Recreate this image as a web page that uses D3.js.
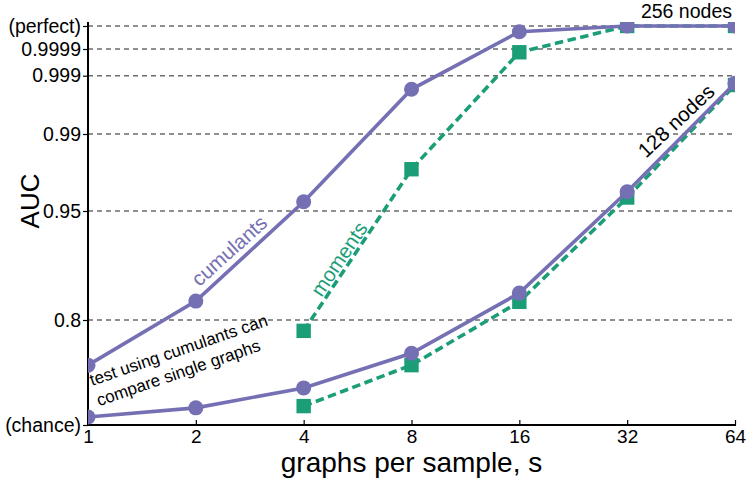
<!DOCTYPE html>
<html>
<head>
<meta charset="utf-8">
<script src="https://cdn.jsdelivr.net/npm/d3@7"></script>
<style>
  html, body { margin: 0; padding: 0; background: #fff; }
  svg text { font-family: "Liberation Sans", Arial, Helvetica, sans-serif; }
</style>
</head>
<body>
<svg id="chart" width="747" height="481"></svg>
<script>
// ---------------- data ----------------
const xTicks = [1, 2, 4, 8, 16, 32, 64];
const yTickValues = [0.5, 0.8, 0.95, 0.99, 0.999, 0.9999, 1];
const yTickLabels = ["(chance)", "0.8", "0.95", "0.99", "0.999", "0.9999", "(perfect)"];

// 256 nodes
const s256 = [1, 2, 4, 8, 16, 32, 64];
const cumulants256 = [0.671, 0.826, 0.9548, 0.9969, 0.999975, 1, 1];
const m256 = [4, 8, 16, 32, 64];
const moments256 = [0.769, 0.9717, 0.99979, 1, 1];

// 128 nodes
const s128 = [1, 2, 4, 8, 16, 32, 64];
const cumulants128 = [0.523, 0.549, 0.606, 0.705, 0.837, 0.960, 0.99783];
const m128 = [4, 8, 16, 32, 64];
const moments128 = [0.554, 0.671, 0.825, 0.957, 0.99756];

// ---------------- layout ----------------
const svg = d3.select("#chart");
const pLeft = 88, pRight = 735, pTop = 22, pBottom = 425;
const purple = "#7570b3", green = "#1b9e77";

const x = d3.scaleLog().base(2).domain([1, 64]).range([pLeft, pRight]);
// non-linear AUC axis: piecewise mapping between labelled levels
const y = d3.scaleLinear().domain(yTickValues).range([425, 320, 211, 134, 75.7, 49, 26]);

// clip
svg.append("defs").append("clipPath").attr("id", "clip")
  .append("rect").attr("x", pLeft).attr("y", pTop).attr("width", pRight - pLeft).attr("height", pBottom - pTop + 10);

// gridlines (dashed)
svg.append("g").selectAll("line").data(yTickValues.slice(1)).join("line")
  .attr("x1", pLeft).attr("x2", pRight)
  .attr("y1", d => y(d)).attr("y2", d => y(d))
  .attr("stroke", "#6b6b6b").attr("stroke-width", 1.4).attr("stroke-dasharray", "5,4");

// y axis
const yAxis = d3.axisLeft(y).tickValues(yTickValues)
  .tickFormat((d, i) => yTickLabels[i]).tickSize(5).tickPadding(2);
const gy = svg.append("g").attr("transform", `translate(${pLeft},0)`).call(yAxis);
gy.select(".domain").remove();
gy.selectAll(".tick line").attr("stroke", "#000").attr("stroke-width", 1.2);
gy.selectAll(".tick text").attr("font-size", 19.5).attr("fill", "#000")
  .attr("font-family", "'Liberation Sans', Arial, sans-serif");
svg.append("line").attr("x1", pLeft).attr("x2", pLeft).attr("y1", pTop).attr("y2", pBottom + 1)
  .attr("stroke", "#000").attr("stroke-width", 2);

// x axis
const xAxis = d3.axisBottom(x).tickValues(xTicks).tickFormat(d3.format("d")).tickSize(-5).tickPadding(5);
const gx = svg.append("g").attr("transform", `translate(0,${pBottom})`).call(xAxis);
gx.select(".domain").remove();
gx.selectAll(".tick line").attr("stroke", "#000").attr("stroke-width", 1.2);
gx.selectAll(".tick text").attr("font-size", 19).attr("fill", "#000")
  .attr("font-family", "'Liberation Sans', Arial, sans-serif");
svg.append("line").attr("x1", pLeft - 1).attr("x2", pRight + 1).attr("y1", pBottom).attr("y2", pBottom)
  .attr("stroke", "#000").attr("stroke-width", 2);

// axis titles
svg.append("text").attr("x", (pLeft + pRight) / 2).attr("y", 472).attr("text-anchor", "middle")
  .attr("font-size", 28).text("graphs per sample, s");
svg.append("text").attr("transform", "translate(39,201) rotate(-90)").attr("text-anchor", "middle")
  .attr("font-size", 26).text("AUC");

// series
const plot = svg.append("g").attr("clip-path", "url(#clip)");
const line = d3.line().x(d => x(d[0])).y(d => y(d[1]));

function drawSeries(xs, ys, color, dashed, shape) {
  const pts = xs.map((v, i) => [v, ys[i]]);
  plot.append("path").datum(pts).attr("d", line)
    .attr("fill", "none").attr("stroke", color).attr("stroke-width", 3.6)
    .attr("stroke-dasharray", dashed ? "8.5,4.5" : null);
  if (shape === "square") {
    plot.append("g").selectAll("rect").data(pts).join("rect")
      .attr("x", d => x(d[0]) - 7.2).attr("y", d => y(d[1]) - 7.2)
      .attr("width", 14.4).attr("height", 14.4).attr("fill", color);
  } else {
    plot.append("g").selectAll("circle").data(pts).join("circle")
      .attr("cx", d => x(d[0])).attr("cy", d => y(d[1])).attr("r", 7.5).attr("fill", color);
  }
}
drawSeries(m128, moments128, green, true, "square");
drawSeries(m256, moments256, green, true, "square");
drawSeries(s128, cumulants128, purple, false, "circle");
drawSeries(s256, cumulants256, purple, false, "circle");

// annotations
svg.append("text").attr("transform", "translate(234,256) rotate(-42)").attr("text-anchor", "middle")
  .attr("font-size", 20.5).attr("fill", purple).text("cumulants");
svg.append("text").attr("transform", "translate(345,263) rotate(-56)").attr("text-anchor", "middle")
  .attr("font-size", 20.5).attr("fill", green).text("moments");
svg.append("text").attr("x", 732).attr("y", 18).attr("text-anchor", "end")
  .attr("font-size", 19.5).text("256 nodes");
svg.append("text").attr("transform", "translate(681,126) rotate(-43)").attr("text-anchor", "middle")
  .attr("font-size", 20.5).text("128 nodes");
const note = svg.append("text").attr("transform", "translate(92,386) rotate(-19)").attr("font-size", 17);
note.append("tspan").attr("x", 0).attr("dy", 0).text("test using cumulants can");
note.append("tspan").attr("x", 0).attr("dy", 21.5).text("compare single graphs");
</script>
</body>
</html>
